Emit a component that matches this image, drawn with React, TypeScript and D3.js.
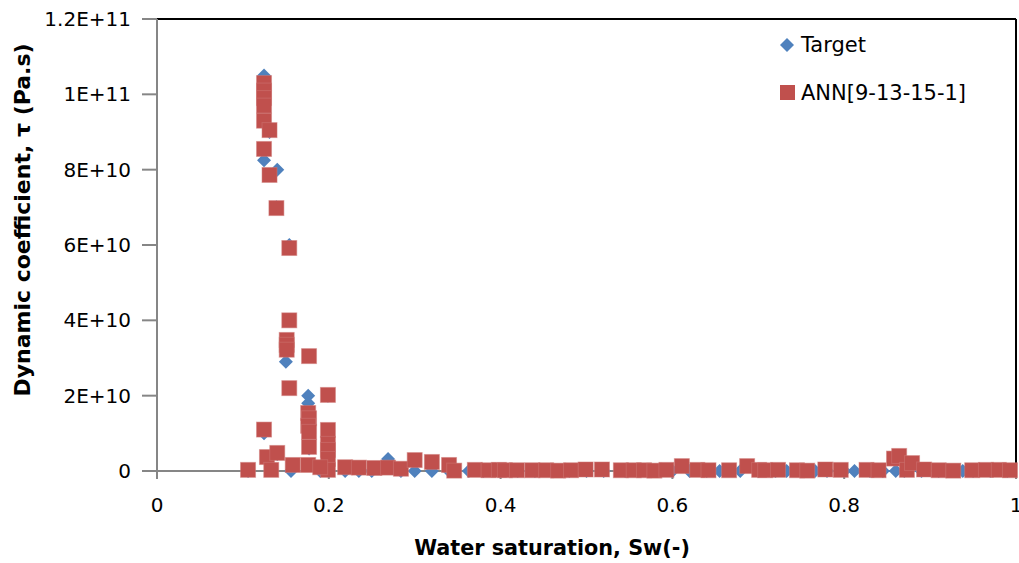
import React from "react";
import * as d3 from "d3";

const annX = [
  0.106, 0.1246, 0.1246, 0.1246, 0.1246, 0.1246, 0.1246, 0.1246,
  0.131, 0.131, 0.139, 0.154, 0.154, 0.151, 0.151, 0.151, 0.154,
  0.177, 0.176, 0.177, 0.176, 0.177, 0.177, 0.176,
  0.199, 0.199, 0.199, 0.199, 0.199, 0.199,
  0.128, 0.14, 0.133, 0.158, 0.19,
  0.219, 0.235, 0.253, 0.269, 0.284, 0.3, 0.32, 0.34, 0.346, 0.37, 0.386, 0.398, 0.405,
  0.419, 0.437, 0.453, 0.467, 0.482, 0.499, 0.518, 0.54, 0.555, 0.567, 0.579, 0.593,
  0.611, 0.629, 0.642, 0.666, 0.687, 0.701, 0.708, 0.723, 0.745, 0.757, 0.778,
  0.796, 0.826, 0.84, 0.858, 0.864, 0.873, 0.879, 0.893, 0.91, 0.927, 0.949,
  0.965, 0.98, 0.993,
];
const annY = [
  0.03e10, 10.3e10, 10.1e10, 9.9e10, 9.7e10, 9.3e10, 8.55e10, 1.1e10,
  9.05e10, 7.86e10, 6.98e10, 5.92e10, 4.0e10, 3.48e10, 3.35e10, 3.22e10, 2.2e10,
  3.05e10, 1.54e10, 1.4e10, 1.2e10, 1.04e10, 0.64e10, 0.16e10,
  2.02e10, 1.09e10, 0.72e10, 0.56e10, 0.32e10, 0.03e10,
  0.37e10, 0.48e10, 0.03e10, 0.16e10, 0.1e10,
  0.1e10, 0.09e10, 0.08e10, 0.09e10, 0.06e10, 0.29e10, 0.24e10, 0.16e10, 0.01e10, 0.03e10, 0.02e10, 0.03e10, 0.02e10,
  0.02e10, 0.02e10, 0.02e10, 0.01e10, 0.02e10, 0.04e10, 0.04e10, 0.02e10, 0.02e10, 0.02e10, 0.01e10, 0.03e10,
  0.13e10, 0.03e10, 0.02e10, 0.02e10, 0.13e10, 0.03e10, 0.02e10, 0.03e10, 0.02e10, 0.01e10, 0.04e10,
  0.03e10, 0.03e10, 0.02e10, 0.33e10, 0.4e10, 0.03e10, 0.21e10, 0.04e10, 0.02e10, 0.01e10, 0.02e10,
  0.03e10, 0.03e10, 0.02e10,
];

const targetX = [
  0.1246, 0.1246, 0.14, 0.154, 0.151, 0.15, 0.176, 0.176, 0.1246, 0.154,
  0.131, 0.1246, 0.139, 0.128, 0.14, 0.156, 0.106, 0.199, 0.199, 0.199,
  0.177, 0.177, 0.269, 0.2,
  0.19, 0.219, 0.235, 0.25, 0.284, 0.3, 0.32, 0.34, 0.363, 0.38, 0.4, 0.42,
  0.44, 0.46, 0.48, 0.5, 0.52, 0.545, 0.56, 0.58, 0.6, 0.62, 0.64, 0.655,
  0.679, 0.7, 0.72, 0.733, 0.75, 0.766, 0.78, 0.8, 0.812, 0.83, 0.845, 0.86,
  0.87, 0.89, 0.91, 0.938, 0.95, 0.97, 0.99,
];
const targetY = [
  10.5e10, 8.25e10, 8.0e10, 6.0e10, 3.2e10, 2.9e10, 2.0e10, 1.8e10, 1.0e10, 4.0e10,
  9.0e10, 9.7e10, 7.0e10, 0.35e10, 0.45e10, 0, 0, 2.0e10, 1.0e10, 0.5e10,
  1.2e10, 0.6e10, 0.32e10, 0,
  0, 0, 0, 0, 0, 0, 0, 0, 0, 0, 0, 0,
  0, 0, 0, 0, 0, 0, 0, 0, 0, 0, 0, 0,
  0, 0, 0, 0, 0, 0, 0, 0, 0, 0, 0, 0,
  0, 0, 0, 0, 0, 0, 0,
];

const xTicks = [0, 0.2, 0.4, 0.6, 0.8, 1];
const xTickLabels = ["0", "0.2", "0.4", "0.6", "0.8", "1"];
const yTicks = [0, 2e10, 4e10, 6e10, 8e10, 10e10, 12e10];
const yTickLabels = ["0", "2E+10", "4E+10", "6E+10", "8E+10", "1E+11", "1.2E+11"];

const seriesNames = ["Target", "ANN[9-13-15-1]"];

const W = 1019;
const H = 563;
const left = 157;
const right = 1016;
const top = 19;
const bottom = 471;
const FONT = "'DejaVu Sans', sans-serif";
const BLUE = "#4F81BD";
const RED = "#C0504D";
const AXIS = "#868686";

export default function App() {
  const x = d3.scaleLinear().domain([0, 1]).range([left, right]);
  const y = d3.scaleLinear().domain([0, 1.2e11]).range([bottom, top]);
  const sq = 15;
  const dm = 7;
  const diamond = (cx: number, cy: number) =>
    `M${cx},${cy - dm}L${cx + dm},${cy}L${cx},${cy + dm}L${cx - dm},${cy}Z`;

  return (
    <svg
      width={W}
      height={H}
      style={{ position: "absolute", left: 0, top: 0, background: "#fff" }}
    >
      {/* plot border top/right */}
      <line x1={left} x2={right} y1={top} y2={top} stroke="#000" strokeWidth={2} />
      <line x1={right} x2={right} y1={top} y2={bottom} stroke="#000" strokeWidth={2} />

      {/* axes */}
      <line x1={left} x2={left} y1={top} y2={bottom} stroke={AXIS} strokeWidth={2} />
      <line x1={left} x2={right} y1={bottom} y2={bottom} stroke={AXIS} strokeWidth={2} />
      {yTicks.map((t, i) => (
        <g key={"y" + i}>
          <line x1={left - 15} x2={left} y1={y(t)} y2={y(t)} stroke={AXIS} strokeWidth={2} />
          <text
            x={131}
            y={y(t)}
            textAnchor="end"
            dominantBaseline="central"
            fontFamily={FONT}
            fontSize={20}
            fill="#000"
          >
            {yTickLabels[i]}
          </text>
        </g>
      ))}
      {xTicks.map((t, i) => (
        <g key={"x" + i}>
          <line x1={x(t)} x2={x(t)} y1={bottom} y2={bottom + 8} stroke={AXIS} strokeWidth={2} />
          <text
            x={x(t)}
            y={505}
            textAnchor="middle"
            dominantBaseline="central"
            fontFamily={FONT}
            fontSize={20}
            fill="#000"
          >
            {xTickLabels[i]}
          </text>
        </g>
      ))}

      {/* Target series */}
      {targetX.map((v, i) => (
        <path key={"t" + i} d={diamond(x(v), y(targetY[i]))} fill={BLUE} />
      ))}
      {/* ANN series */}
      {annX.map((v, i) => (
        <rect
          key={"a" + i}
          x={x(v) - sq / 2}
          y={y(annY[i]) - sq / 2}
          width={sq}
          height={sq}
          fill={RED}
          stroke="#D07A78"
          strokeOpacity={0.5}
          strokeWidth={1}
        />
      ))}

      {/* legend */}
      <path d={diamond(787, 45)} fill={BLUE} />
      <text x={801} y={45} dominantBaseline="central" fontFamily={FONT} fontSize={21} fill="#000">
        {seriesNames[0]}
      </text>
      <rect x={780} y={85} width={15} height={15} fill={RED} />
      <text x={801} y={93} dominantBaseline="central" fontFamily={FONT} fontSize={21} fill="#000">
        {seriesNames[1]}
      </text>

      {/* axis titles */}
      <text
        x={552}
        y={548}
        textAnchor="middle"
        dominantBaseline="central"
        fontFamily={FONT}
        fontSize={20.75}
        fontWeight="bold"
        fill="#000"
      >
        Water saturation, Sw(-)
      </text>
      <text
        transform={`translate(22, 220) rotate(-90)`}
        textAnchor="middle"
        dominantBaseline="central"
        fontFamily={FONT}
        fontSize={22}
        fontWeight="bold"
        fill="#000"
      >
        Dynamic coefficient, τ (Pa.s)
      </text>
    </svg>
  );
}
